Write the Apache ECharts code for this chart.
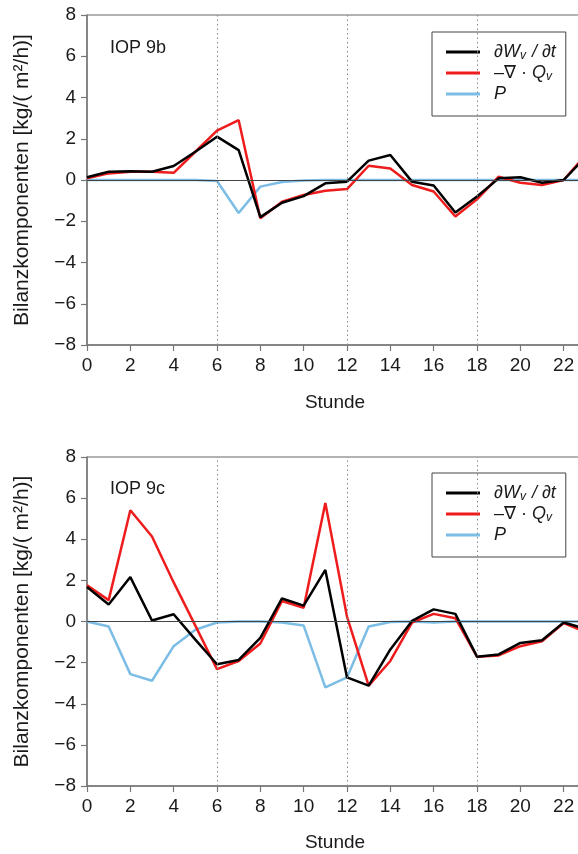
<!DOCTYPE html>
<html>
<head>
<meta charset="utf-8">
<script src="https://cdn.jsdelivr.net/npm/echarts@6/dist/echarts.min.js"></script>
<style>
  html, body { margin: 0; padding: 0; background: #fff; }
  #chart { width: 578px; height: 854px; }
</style>
</head>
<body>
<div id="chart"></div>
<script>
  // Stunden (0..23)
  const hours = [0, 1, 2, 3, 4, 5, 6, 7, 8, 9, 10, 11, 12, 13, 14, 15, 16, 17, 18, 19, 20, 21, 22, 23]

  // IOP 9b
  const dWdt9b = [0.13, 0.4, 0.43, 0.4, 0.68, 1.37, 2.1, 1.45, -1.8, -1.1, -0.78, -0.16, -0.08, 0.94, 1.21, -0.08, -0.27, -1.58, -0.8, 0.08, 0.13, -0.13, 0.0, 1.1]
  const divQ9b = [0.08, 0.32, 0.4, 0.4, 0.35, 1.37, 2.39, 2.9, -1.85, -1.05, -0.73, -0.52, -0.44, 0.69, 0.56, -0.24, -0.56, -1.77, -0.94, 0.16, -0.13, -0.24, 0.0, 1.2]
  const precip9b = [0, 0, 0, 0, 0, 0, -0.05, -1.6, -0.32, -0.1, -0.03, 0, 0, 0, 0, 0, 0, 0, 0, 0, 0, 0, 0, 0]

  // IOP 9c
  const dWdt9c = [1.68, 0.83, 2.16, 0.05, 0.35, -0.88, -2.08, -1.87, -0.8, 1.12, 0.77, 2.51, -2.72, -3.12, -1.36, 0.03, 0.59, 0.37, -1.71, -1.6, -1.04, -0.91, -0.05, -0.35]
  const divQ9c = [1.76, 1.04, 5.41, 4.13, 1.9, -0.2, -2.32, -1.92, -1.07, 1.0, 0.67, 5.76, 0.24, -3.12, -1.92, -0.05, 0.37, 0.16, -1.71, -1.65, -1.2, -0.96, -0.08, -0.5]
  const precip9c = [0, -0.24, -2.56, -2.88, -1.2, -0.4, -0.05, 0, 0, -0.05, -0.2, -3.2, -2.72, -0.24, -0.02, 0, -0.05, 0, 0, 0, 0, 0, 0, 0]

  const yTicks = { min: -8, max: 8, interval: 2 }
  const xTicks = { min: 0, max: 24, interval: 2 }
  const guideHours = [6, 12, 18]

  const FONT = 'Liberation Sans, Arial, Helvetica, sans-serif'
  const colors = { dW: '#000000', divQ: '#ee1c1c', P: '#7cbde6' }

  let chart = echarts.init(document.getElementById('chart'), null, { renderer: 'canvas' })

  const pairs = (vals) => hours.map((h, i) => [h, vals[i]])

  function makeAxes(gridIndex) {
    let x = {
      type: 'value',
      gridIndex,
      min: xTicks.min,
      max: xTicks.max,
      interval: xTicks.interval,
      axisLine: { onZero: false, lineStyle: { color: '#777', width: 1.5 } },
      axisTick: { inside: false, length: 6, lineStyle: { color: '#777', width: 1.2 } },
      axisLabel: { fontFamily: FONT, fontSize: 19, color: '#1a1a1a', margin: 11 },
      splitLine: { show: false },
    }
    let y = {
      type: 'value',
      gridIndex,
      min: yTicks.min,
      max: yTicks.max,
      interval: yTicks.interval,
      name: 'Bilanzkomponenten [kg/( m²/h)]',
      nameLocation: 'middle',
      nameGap: 54,
      nameRotate: 90,
      nameTextStyle: { fontFamily: FONT, fontSize: 21, color: '#1a1a1a' },
      axisLine: { lineStyle: { color: '#777', width: 1.5 } },
      axisTick: { inside: false, length: 6, lineStyle: { color: '#777', width: 1.2 } },
      axisLabel: {
        fontFamily: FONT, fontSize: 19, color: '#1a1a1a', margin: 11,
        formatter: (v) => (v < 0 ? '\u2212' + Math.abs(v) : String(v)),
      },
      splitLine: { show: false },
    }
    return { x, y }
  }

  function makeSeries(idx, dW, dQ, pr) {
    let base = {
      type: 'line',
      xAxisIndex: idx,
      yAxisIndex: idx,
      symbol: 'none',
      smooth: false,
      silent: true,
      animation: false,
    }
    return [
      Object.assign({}, base, {
        name: 'P',
        data: pairs(pr),
        z: 2,
        lineStyle: { color: colors.P, width: 2.5 },
        itemStyle: { color: colors.P },
        markLine: {
          silent: true,
          symbol: 'none',
          label: { show: false },
          animation: false,
          data: [
            { yAxis: 0, lineStyle: { color: '#444', width: 1, type: 'solid' } },
          ].concat(guideHours.map((h) => ({ xAxis: h, lineStyle: { color: '#888', width: 1, type: [1.5, 3] } }))),
        },
      }),
      Object.assign({}, base, {
        name: 'divQ',
        data: pairs(dQ),
        z: 3,
        lineStyle: { color: colors.divQ, width: 2.5 },
        itemStyle: { color: colors.divQ },
      }),
      Object.assign({}, base, {
        name: 'dW',
        data: pairs(dW),
        z: 4,
        lineStyle: { color: colors.dW, width: 2.5 },
        itemStyle: { color: colors.dW },
      }),
    ]
  }

  // Legendentexte mit Indizes
  const legendText = {
    dW: '{i|\u2202W}{s|v}{i| / \u2202t}',
    divQ: '{n|\u2013\u2207 \u00b7 }{i|Q}{s|v}',
    P: '{i|P}',
  }

  function makeLegend(top) {
    return {
      orient: 'vertical',
      left: 432,
      top,
      padding: [11, 10, 13, 14],
      itemGap: 2,
      itemWidth: 34,
      itemHeight: 3,
      icon: 'rect',
      borderColor: '#444',
      borderWidth: 1,
      selectedMode: false,
      data: ['dW', 'divQ', 'P'],
      formatter: (name) => legendText[name],
      textStyle: {
        fontFamily: FONT,
        fontSize: 18,
        color: '#1a1a1a',
        padding: [0, 0, 0, 9],
        rich: {
          i: { fontFamily: FONT, fontSize: 18, fontStyle: 'italic', color: '#1a1a1a' },
          n: { fontFamily: FONT, fontSize: 18, color: '#1a1a1a' },
          s: { fontFamily: FONT, fontSize: 12, fontStyle: 'italic', color: '#1a1a1a', padding: [8, 1, 0, 0] },
        },
      },
    }
  }

  let a0 = makeAxes(0),
    a1 = makeAxes(1)

  chart.setOption({
    backgroundColor: '#fff',
    animation: false,
    grid: [
      { left: 87, top: 15, width: 520, height: 330, outerBoundsMode: 'none', containLabel: false, show: true, borderColor: '#666', borderWidth: 1, backgroundColor: 'transparent' },
      { left: 87, top: 457, width: 520, height: 329, outerBoundsMode: 'none', containLabel: false, show: true, borderColor: '#666', borderWidth: 1, backgroundColor: 'transparent' },
    ],
    xAxis: [a0.x, a1.x],
    yAxis: [a0.y, a1.y],
    legend: [makeLegend(32), makeLegend(473)],
    graphic: [
      { type: 'text', left: 110, top: 39, style: { text: 'IOP 9b', font: '18px ' + FONT, fill: '#1a1a1a' } },
      { type: 'text', left: 110, top: 480, style: { text: 'IOP 9c', font: '18px ' + FONT, fill: '#1a1a1a' } },
      { type: 'text', x: 335, y: 403, style: { text: 'Stunde', font: '19px ' + FONT, fill: '#1a1a1a', align: 'center', verticalAlign: 'middle' } },
      { type: 'text', x: 335, y: 843, style: { text: 'Stunde', font: '19px ' + FONT, fill: '#1a1a1a', align: 'center', verticalAlign: 'middle' } },
    ],
    series: makeSeries(0, dWdt9b, divQ9b, precip9b).concat(makeSeries(1, dWdt9c, divQ9c, precip9c)),
  })
</script>
</body>
</html>
